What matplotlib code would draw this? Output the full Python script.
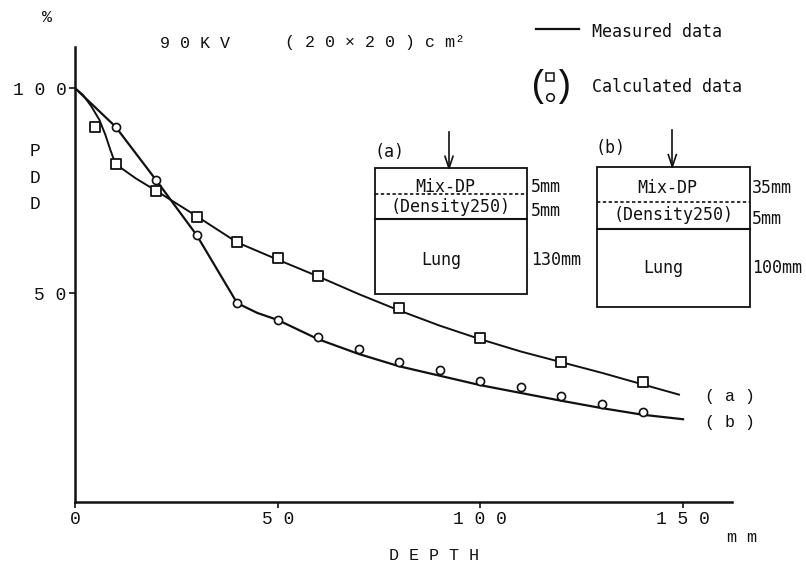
import matplotlib.pyplot as plt
from matplotlib.lines import Line2D
from matplotlib.patches import Rectangle

# measured curves
depth_a = [0, 2, 4, 6, 7.5, 8.7, 10, 15, 20, 30, 40, 50, 60, 70, 80, 90, 100, 110, 120, 130, 140, 149]
pdd_a = [100, 98.3, 95.6, 92.3, 88.6, 85, 81.5, 78, 75, 68.8, 62.4, 58.2, 54.1, 49.8, 45.8, 42.1, 38.8, 35.8, 33.2,
         30.6, 27.8, 25.3]
depth_b = [0, 10, 20, 30, 40, 45, 50, 60, 70, 80, 90, 100, 110, 120, 130, 140, 150]
pdd_b = [100, 90.6, 77.6, 64.2, 47.6, 45.2, 43.5, 38.8, 35.2, 32.2, 29.9, 27.6, 25.7, 23.8, 22.0, 20.4, 19.3]

# calculated data
depth_sq = [5, 10, 20, 30, 40, 50, 60, 80, 100, 120, 140]
pdd_sq = [90.5, 81.5, 75.0, 68.7, 62.4, 58.5, 54.3, 46.3, 39.0, 33.2, 28.3]
depth_ci = [10, 20, 30, 40, 50, 60, 70, 80, 90, 100, 110, 120, 130, 140]
pdd_ci = [90.6, 77.6, 64.2, 47.6, 43.5, 39.4, 36.4, 33.3, 31.3, 28.7, 27.2, 25.0, 22.9, 21.1]

xticks = [0, 50, 100, 150]
xtick_labels = ["0", "5 0", "1 0 0", "1 5 0"]
yticks = [50, 100]
ytick_labels = ["5 0", "1 0 0"]

W, H = 806, 567
mono = "Liberation Mono"
dmono = "DejaVu Sans Mono"
ink = "#111111"


def fx(x):
    return x / W


def fy(y):
    return 1 - y / H


fig = plt.figure(figsize=(W / 100, H / 100), dpi=100)
ax = fig.add_axes([fx(75), fy(501.7), (731.7 - 75) / W, (501.7 - 46.7) / H])

ax.plot(depth_a, pdd_a, color=ink, lw=1.4)
ax.plot(depth_b, pdd_b, color=ink, lw=1.6)
ax.scatter(depth_sq, pdd_sq, marker='s', s=50, facecolors='white', edgecolors=ink, linewidths=1.3, zorder=3)
ax.scatter(depth_ci, pdd_ci, marker='o', s=34, facecolors='white', edgecolors=ink, linewidths=1.2, zorder=3)

ax.set_xlim(0, 162)
ax.set_ylim(-0.8, 110.1)
for s in ['top', 'right']:
    ax.spines[s].set_visible(False)
for s in ['left', 'bottom']:
    ax.spines[s].set_linewidth(1.8)
    ax.spines[s].set_color(ink)
ax.set_xticks(xticks)
ax.set_xticklabels(xtick_labels, fontfamily=mono, fontsize=13)
ax.set_yticks(yticks)
ax.set_yticklabels(ytick_labels, fontfamily=mono, fontsize=13)
ax.tick_params(axis='both', direction='out', length=4, width=1.2, color=ink, labelcolor=ink)
ax.tick_params(axis='x', pad=3)
ax.tick_params(axis='y', pad=2)

# axis texts
fig.text(fx(47), fy(17), "%", fontfamily=mono, fontsize=12, ha='center', va='center', color=ink)
for ch, yy in zip("PDD", [151.7, 178.3, 205]):
    fig.text(fx(35), fy(yy), ch, fontfamily=mono, fontsize=13, ha='center', va='center', color=ink)
fig.text(fx(434), fy(556), "D E P T H", fontfamily=mono, fontsize=12, ha='center', va='center', color=ink)
fig.text(fx(742), fy(537), "m m", fontfamily=mono, fontsize=12, ha='center', va='center', color=ink)
fig.text(fx(160), fy(43), "9 0 K V", fontfamily=mono, fontsize=12, ha='left', va='center', color=ink)
fig.text(fx(285), fy(43), "( 2 0 × 2 0 ) c m²", fontfamily=mono, fontsize=12, ha='left', va='center', color=ink)
fig.text(fx(705), fy(396), "( a )", fontfamily=mono, fontsize=12, ha='left', va='center', color=ink)
fig.text(fx(705), fy(423), "( b )", fontfamily=mono, fontsize=12, ha='left', va='center', color=ink)

# legend
fig.add_artist(Line2D([fx(536), fx(579)], [fy(29), fy(29)], transform=fig.transFigure, color=ink, lw=1.6))
fig.text(fx(592), fy(32), "Measured data", fontfamily=dmono, fontsize=12, ha='left', va='center', color=ink)
fig.text(fx(539), fy(87), "(", fontfamily=mono, fontsize=26, ha='center', va='center', color=ink)
fig.text(fx(563), fy(87), ")", fontfamily=mono, fontsize=26, ha='center', va='center', color=ink)
fig.add_artist(Line2D([fx(550)], [fy(76.7)], transform=fig.transFigure, marker='s', ms=6,
                      mfc='white', mec=ink, mew=1.1, ls='none'))
fig.add_artist(Line2D([fx(550)], [fy(97.3)], transform=fig.transFigure, marker='o', ms=5.5,
                      mfc='white', mec=ink, mew=1.1, ls='none'))
fig.text(fx(592), fy(87), "Calculated data", fontfamily=dmono, fontsize=12, ha='left', va='center', color=ink)


def inset(left, right, top, bottom, dash_y, solid_y, arrow_x, arrow_top, label, label_y,
          mix_y, dens_y, lung_y, sizes, size_x):
    fig.add_artist(Rectangle((fx(left), fy(bottom)), (right - left) / W, (bottom - top) / H,
                             transform=fig.transFigure, fill=False, ec=ink, lw=1.3))
    fig.add_artist(Line2D([fx(left), fx(right)], [fy(dash_y), fy(dash_y)], transform=fig.transFigure,
                          color=ink, lw=1.2, ls=(0, (2, 1.5))))
    fig.add_artist(Line2D([fx(left), fx(right)], [fy(solid_y), fy(solid_y)], transform=fig.transFigure,
                          color=ink, lw=1.5))
    fig.add_artist(Line2D([fx(arrow_x), fx(arrow_x)], [fy(arrow_top), fy(top)], transform=fig.transFigure,
                          color=ink, lw=1.2))
    fig.add_artist(Line2D([fx(arrow_x - 4), fx(arrow_x), fx(arrow_x + 4)], [fy(top - 12), fy(top), fy(top - 12)],
                          transform=fig.transFigure, color=ink, lw=1.2))
    cx = (left + right) / 2
    fig.text(fx(left - 1), fy(label_y), label, fontfamily=dmono, fontsize=12, ha='left', va='center', color=ink)
    fig.text(fx(cx - 6), fy(mix_y), "Mix-DP", fontfamily=dmono, fontsize=12, ha='center', va='center', color=ink)
    fig.text(fx(cx), fy(dens_y), "(Density250)", fontfamily=dmono, fontsize=12, ha='center', va='center', color=ink)
    fig.text(fx(cx - 10), fy(lung_y), "Lung", fontfamily=dmono, fontsize=12, ha='center', va='center', color=ink)
    for txt, yy in zip(sizes, [mix_y, dens_y + 4, lung_y]):
        fig.text(fx(size_x), fy(yy), txt, fontfamily=dmono, fontsize=12, ha='left', va='center', color=ink)


inset(375, 527, 168.3, 294, 194.3, 219.3, 449, 131.7, "(a)", 151.7, 186.7, 207, 260,
      ["5mm", "5mm", "130mm"], 531)
inset(596.7, 750, 166.7, 306.7, 201.7, 229.3, 672.3, 130, "(b)", 148, 188, 215, 268,
      ["35mm", "5mm", "100mm"], 752)

fig.savefig("out.png", dpi=100, facecolor='white')
